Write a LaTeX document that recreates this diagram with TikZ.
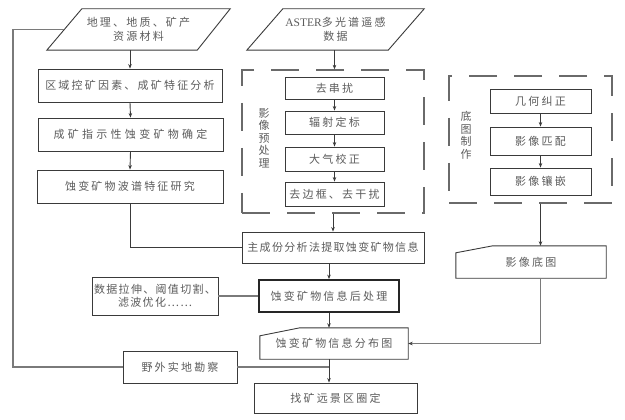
\documentclass[tikz,border=0pt]{standalone}
\usepackage{fontspec}
\setmainfont{Liberation Serif}
\newfontfamily\cjk[LetterSpace=20]{Noto Sans CJK SC}
\newfontfamily\cjkw[LetterSpace=30]{Noto Sans CJK SC}
\newfontfamily\cjkn[LetterSpace=12]{Noto Sans CJK SC}
\newfontfamily\cjkv{Noto Sans CJK SC}
\usetikzlibrary{arrows.meta,calc}
\definecolor{boxc}{HTML}{3A3A3A}
\definecolor{txtc}{HTML}{5C5C5C}
\definecolor{linec}{HTML}{3A3A3A}
\definecolor{grayc}{HTML}{7A7A7A}
\definecolor{dashc}{HTML}{6A6A6A}
\begin{document}
\begin{tikzpicture}[x=1pt,y=-1pt,
  txt/.style={inner sep=0pt, text=txtc, align=center, font=\fontsize{11}{14}\selectfont\cjk},
  box/.style={txt, draw=boxc, line width=0.9pt},
  thickbox/.style={txt, draw=black!85, line width=1.8pt},
  shapeline/.style={draw=boxc, line width=0.9pt},
  dashbox/.style={inner sep=0pt, draw=dashc, line width=1.3pt, dash pattern=on 28pt off 17pt},
  vlabel/.style={inner sep=0pt, text=txtc, align=center, font=\fontsize{11}{12.5}\selectfont\cjkv},
  arr/.style={draw=linec, line width=0.9pt, -{Stealth[length=4.5pt,width=3.5pt]}},
  plain/.style={draw=linec, line width=0.9pt},
  gline/.style={draw=grayc, line width=1.4pt},
  garr/.style={draw=grayc, line width=1.4pt, -{Stealth[length=4.5pt,width=3.5pt,color=linec]}}
]
\useasboundingbox[fill=white] (0,0) rectangle (625,420);

% parallelograms (inputs)
\node[txt, minimum width=183, minimum height=41] (p1) at (138.5,29.5) {地理、地质、矿产\\资源材料};
\draw[shapeline] ($(p1.north west)+(35,0)$) -- (p1.north east) -- ($(p1.south east)+(-33,0)$) -- (p1.south west) -- cycle;
\node[txt, minimum width=177, minimum height=41] (p2) at (335.5,29.5) {{\rmfamily\fontsize{11.5}{14}\selectfont ASTER}多光谱遥感\\数据};
\draw[shapeline] ($(p2.north west)+(36,0)$) -- (p2.north east) -- ($(p2.south east)+(-36,0)$) -- (p2.south west) -- cycle;

% left column
\node[box, minimum width=184, minimum height=33] (b1) at (130,85.5) {区域控矿因素、成矿特征分析};
\node[box, minimum width=185, minimum height=33, font=\fontsize{11}{14}\selectfont\cjkw] (b2) at (130.5,134.5) {成矿指示性蚀变矿物确定};
\node[box, minimum width=186, minimum height=33] (b3) at (130,186.5) {蚀变矿物波谱特征研究};

% preprocessing group
\node[dashbox, minimum width=182, minimum height=143] (d1) at (333,141.5) {};
\node[box, minimum width=99, minimum height=22] (s1) at (334.5,88) {去串扰};
\node[box, minimum width=99, minimum height=23] (s2) at (334.5,122.5) {辐射定标};
\node[box, minimum width=99, minimum height=24] (s3) at (334.5,159) {大气校正};
\node[box, minimum width=99, minimum height=24] (s4) at (334.5,194) {去边框、去干扰};
\node[vlabel] (l1) at (264,138) {影\\像\\预\\处\\理};

% base map group
\node[dashbox, minimum width=163, minimum height=127] (d2) at (530.5,139.5) {};
\node[box, minimum width=101, minimum height=24] (t1) at (540.5,101) {几何纠正};
\node[box, minimum width=101, minimum height=28] (t2) at (540.5,141) {影像匹配};
\node[box, minimum width=101, minimum height=27] (t3) at (540.5,181.5) {影像镶嵌};
\node[vlabel] (l2) at (466,135.5) {底\\图\\制\\作};

% base map output
\node[txt, minimum width=150, minimum height=32] (m1) at (531,262) {影像底图};
\draw[shapeline] (m1.south west) -- ($(m1.north west)+(0,7)$) -- ($(m1.north west)+(37,0)$) -- (m1.north east) -- (m1.south east) -- cycle;

% main chain
\node[box, minimum width=182, minimum height=31, font=\fontsize{11}{14}\selectfont\cjkn] (mb) at (333,247.5) {主成份分析法提取蚀变矿物信息};
\node[thickbox, minimum width=140, minimum height=32] (pp) at (329,296) {蚀变矿物信息后处理};
\node[box, minimum width=126, minimum height=38, font=\fontsize{11}{13}\selectfont\cjkn] (db) at (155,296) {数据拉伸、阈值切割、\\滤波优化……};
\node[txt, minimum width=148, minimum height=31] (fb) at (334,343.5) {蚀变矿物信息分布图};
\draw[shapeline] (fb.south west) -- ($(fb.north west)+(0,8)$) -- ($(fb.north west)+(40,0)$) -- (fb.north east) -- (fb.south east) -- cycle;
\node[box, minimum width=114, minimum height=32] (yw) at (180,367) {野外实地勘察};
\node[box, minimum width=163, minimum height=30] (zk) at (335.5,398) {找矿远景区圈定};

% coordinates
\coordinate (pl) at ($(p1.south west)!0.5!($(p1.north west)+(35,0)$)$);
\coordinate (leftx) at (13,0);

% connectors: left column
\draw[arr] (b1.north |- p1.south) -- (b1.north);
\draw[arr] (b1.south) -- (b2.north);
\draw[arr] (b2.south) -- (b3.north);
\draw[plain] (b3.south) -- (b3.south |- mb.west) -- (mb.west);

% preprocessing
\draw[arr] (p2.south -| s1.north) -- (s1.north |- d1.north);
\draw[arr] (s1.south) -- (s2.north);
\draw[arr] (s2.south) -- (s3.north);
\draw[arr] (s3.south) -- (s4.north);
\draw[arr] (d1.south -| mb.north) -- (mb.north);

% base map
\draw[arr] (t1.south) -- (t2.north);
\draw[arr] (t2.south) -- (t3.north);
\draw[arr] (t3.south |- d2.south) -- (t3.south |- m1.north);
\draw[garr] (t3.south |- m1.south) -- (t3.south |- fb.east) -- (fb.east);

% main chain
\draw[arr] (mb.south -| pp.north) -- (pp.north);
\draw[gline] (db.east) -- (pp.west);
\draw[arr] (pp.south) -- (pp.south |- fb.north);
\draw[arr] (pp.south |- fb.south) -- (pp.south |- zk.north);
\draw[gline] (yw.east) -- (yw.east -| pp.south);

% feedback loop
\draw[gline] (yw.west) -- (yw.west -| leftx) -- (pl -| leftx) -- (pl);
\end{tikzpicture}
\end{document}
